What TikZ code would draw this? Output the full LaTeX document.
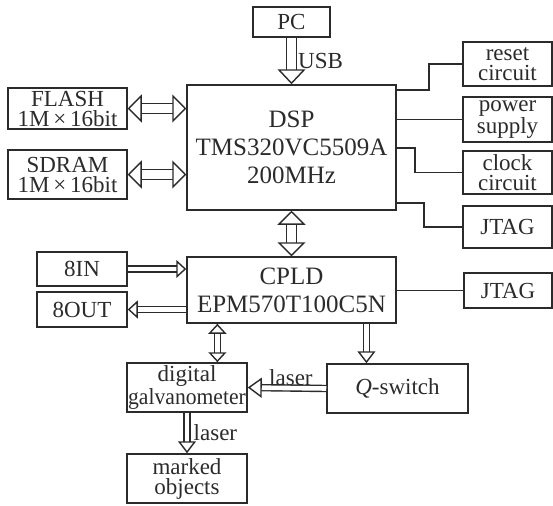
\documentclass[tikz,border=0pt]{standalone}
\usepackage{fontspec}
\setmainfont{Liberation Serif}
\usetikzlibrary{arrows.meta,calc,positioning}
\definecolor{Ink}{HTML}{2B2B2B}

\begin{document}
\begin{tikzpicture}[x=0.5pt,y=-0.5pt,
    blk/.style={draw=Ink,line width=0.75pt,text=Ink,inner sep=0pt,align=center,
                font=\fontsize{11.5}{10}\selectfont},
    bigbus/.style={draw=Ink,line width=0.7pt,double=white,double distance=4.3pt},
    smallbus/.style={draw=Ink,line width=0.7pt,double=white,double distance=2.3pt},
    wire/.style={draw=Ink,line width=0.75pt},
    lbl/.style={text=Ink,inner sep=1pt,font=\fontsize{11.5}{12}\selectfont}]
    \useasboundingbox (0,0) rectangle (553,505);
    % processor and its periphery
    \node[blk,minimum width=77*0.5pt,minimum height=30*0.5pt] (pc) at (291.5,22) {PC};
    \node[blk,minimum width=209*0.5pt,minimum height=125*0.5pt,
          font=\fontsize{12.5}{14}\selectfont] (dsp) at (291.5,147.5) {DSP\\TMS320VC5509A\\200MHz};
    \node[blk,minimum width=119*0.5pt,minimum height=41*0.5pt] (flash) at (67.5,108.5) {FLASH\\1M\,×\,16bit};
    \node[blk,minimum width=119*0.5pt,minimum height=49*0.5pt] (sdram) at (67.5,174.5) {SDRAM\\1M\,×\,16bit};
    \node[blk,minimum width=89*0.5pt,minimum height=44*0.5pt] (reset) at (507.5,64) {reset\\circuit};
    \node[blk,minimum width=89*0.5pt,minimum height=45*0.5pt] (power) at (507.5,119.5) {power\\supply};
    \node[blk,minimum width=89*0.5pt,minimum height=43*0.5pt] (clock) at (507.5,172.5) {clock\\circuit};
    \node[blk,minimum width=89*0.5pt,minimum height=42*0.5pt] (jtagA) at (507.5,227) {JTAG};
    % logic part
    \node[blk,minimum width=209*0.5pt,minimum height=66*0.5pt,
          font=\fontsize{12.5}{14}\selectfont] (cpld) at (291.5,290) {CPLD\\EPM570T100C5N};
    \node[blk,minimum width=90*0.5pt,minimum height=34*0.5pt] (in8) at (82,269) {8IN};
    \node[blk,minimum width=90*0.5pt,minimum height=35*0.5pt] (out8) at (82,309.5) {8OUT};
    \node[blk,minimum width=88*0.5pt,minimum height=35*0.5pt] (jtagB) at (508,290.5) {JTAG};
    \node[blk,minimum width=120*0.5pt,minimum height=49*0.5pt] (galvo) at (187,387.5)
         {digital\\\scalebox{0.94}[1]{galvanometer}};
    \node[blk,minimum width=141*0.5pt,minimum height=49*0.5pt] (qsw) at (397.5,388.5) {\textit{Q}-switch};
    \node[blk,minimum width=120*0.5pt,minimum height=49*0.5pt] (marked) at (187,478.5) {marked\\objects};

    \draw[bigbus,-{Triangle[open,length=7.5pt,width=14pt]}] (pc) -- (dsp)
        node[lbl,pos=0.5,anchor=west,xshift=2pt] {USB};
    \draw[bigbus,{Triangle[open,length=7pt,width=14pt]}-{Triangle[open,length=7pt,width=14pt]}]
        (flash.east) -- (flash.east -| dsp.west);
    \draw[bigbus,{Triangle[open,length=7pt,width=14pt]}-{Triangle[open,length=7pt,width=14pt]}]
        (sdram.east) -- (sdram.east -| dsp.west);
    \draw[bigbus,{Triangle[open,length=7pt,width=14pt]}-{Triangle[open,length=7pt,width=14pt]}]
        (dsp) -- (cpld);
    \draw[wire] (dsp.east |- 0,90) -- (429,90) |- (reset.west);
    \draw[wire] (dsp.east |- power.west) -- (power.west);
    \draw[wire] (dsp.east |- 0,148) -- (415,148) |- (clock.west);
    \draw[wire] (dsp.east |- 0,203) -- (424,203) |- (jtagA.west);

    \draw[smallbus,-{Triangle[open,length=5pt,width=9pt]}] (in8.east) -- (in8.east -| cpld.west);
    \draw[smallbus,-{Triangle[open,length=5pt,width=9pt]}] (out8.east -| cpld.west) -- (out8.east);
    \draw[wire] (cpld.east |- jtagB.west) -- (jtagB.west);
    \coordinate (gtop) at ($(galvo.north west)!0.75!(galvo.north east)$);
    \draw[smallbus,{Triangle[open,length=5pt,width=9pt]}-{Triangle[open,length=5pt,width=9pt]}]
        (gtop |- cpld.south) -- (gtop);
    \coordinate (cbot) at ($(cpld.south west)!0.856!(cpld.south east)$);
    \draw[smallbus,-{Triangle[open,length=6pt,width=9pt]}] (cbot) -- (cbot |- qsw.north);
    \draw[smallbus,-{Triangle[open,length=7pt,width=10pt]}] (qsw.west) -- (galvo.east)
        node[lbl,pos=0.45,anchor=south] {laser};
    \draw[smallbus,-{Triangle[open,length=6pt,width=9pt]}] (galvo) -- (marked)
        node[lbl,pos=0.5,anchor=west,xshift=2pt] {laser};
  \end{tikzpicture}
\end{document}
